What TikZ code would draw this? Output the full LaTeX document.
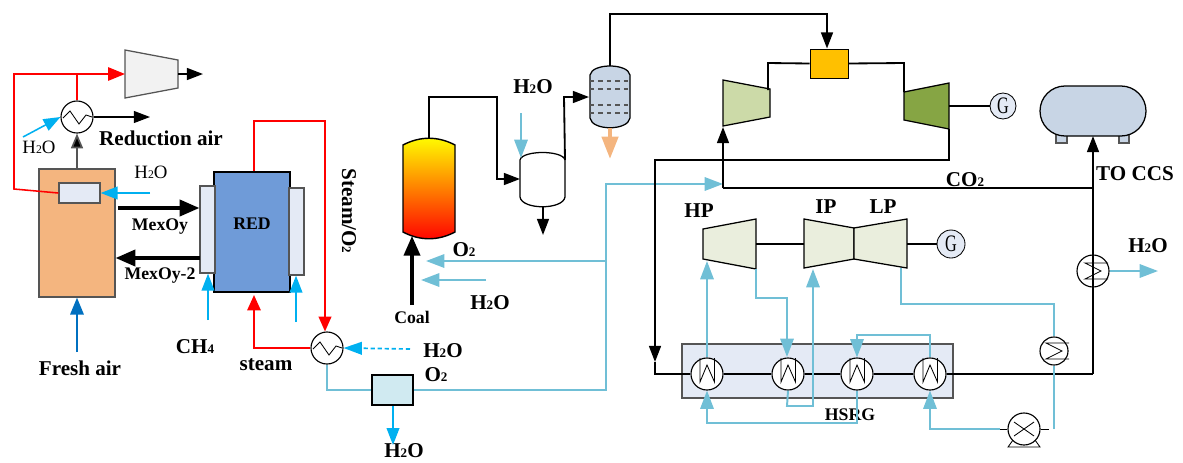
\documentclass[tikz,border=0pt]{standalone}
\usepackage{fontspec}
\setmainfont{Liberation Serif}
\usetikzlibrary{arrows.meta,fit}
\definecolor{airblue}{HTML}{00B0F0}
\definecolor{waterblue}{HTML}{70BFD6}
\definecolor{freshblue}{HTML}{0070C0}
\definecolor{orangebox}{HTML}{F4B57F}
\definecolor{redbox}{HTML}{6F9BD8}
\definecolor{palebox}{HTML}{E4EAF5}
\definecolor{steelbox}{HTML}{C8D5E5}
\definecolor{darkgray}{HTML}{555555}
\definecolor{combbox}{HTML}{FFC000}
\definecolor{compgreen}{HTML}{CCDAA8}
\definecolor{turbgreen}{HTML}{86A544}
\definecolor{steamgreen}{HTML}{EAEEDD}
\definecolor{fangray}{HTML}{F2F2F2}
\newcommand{\HxW}[2]{%
  \node[hx] (#1) at #2 {};
  \draw[hxline,shift={#2}] (-7,-16) -- (-7,8) -- (0,-9) -- (7.5,8) -- (7.5,-16);
}
\newcommand{\HxS}[3]{%
  \node[hx,minimum size=#3*0.025cm] (#1) at #2 {};
  \draw[hxline,shift={#2}] (15,-8) -- (-8,-8) -- (8,0) -- (-8,8) -- (15,8);
}
\newcommand{\HxZ}[2]{%
  \node[hx] (#1) at #2 {};
  \draw[hxline,shift={#2}] (-14,1) -- (-7,-6) -- (2,7) -- (9,-2) -- (15,0);
}
\newcommand{\Sub}[1]{\scalebox{0.62}{#1}}
\newcommand{\GenG}{\scalebox{0.72}[1.05]{G}}
\tikzset{
  hx/.style={draw,circle,fill=white,line width=0.8pt,minimum size=0.8cm,inner sep=0pt},
  hxline/.style={line width=0.6pt},
  gen/.style={draw,circle,fill=palebox,line width=0.6pt,minimum size=0.7cm,inner sep=0pt,font=\fontsize{16}{18}\selectfont},
  box/.style={draw=darkgray,line width=0.9pt,inner sep=0pt},
  label/.style={font=\fontsize{15}{18}\selectfont\bfseries,inner sep=0pt},
  small/.style={font=\fontsize{12.6}{15}\selectfont\bfseries,inner sep=0pt},
  plain/.style={font=\fontsize{13.4}{16}\selectfont,inner sep=0pt},
  pipe/.style={line width=1.3pt,-{Triangle[length=11.5pt,width=8.5pt]}},
  pipeline/.style={line width=1.3pt},
  fatpipe/.style={line width=2.4pt,-{Triangle[length=14pt,width=11.5pt]}},
  redpipe/.style={red,line width=1.1pt},
  wpipe/.style={waterblue,line width=1.4pt},
  warrow/.style={wpipe,-{Triangle[length=13pt,width=9.5pt]}},
  carrow/.style={airblue,line width=1.1pt,-{Triangle[length=12pt,width=9pt]}},
  hull/.style={draw=black,line width=0.9pt}
}
\begin{document}
\begin{tikzpicture}[x=0.025cm,y=-0.025cm]
\useasboundingbox (0,0) rectangle (1183,462);

% air reactor side
\node[box,fill=orangebox,fit={(39,169)(115,297)}] (AR) {};
\node[box,fill=palebox,fit={(59,183)(100,203)}] (ARcoil) {};
\node[box,fill=redbox,draw=black,fit={(214,172)(290,292)}] (RED) {};
\node[box,fill=palebox,fit={(200,186)(215,273)}] (MemL) {};
\node[box,fill=palebox,fit={(289,188)(304,275)}] (MemR) {};
\node[small] (REDname) at (252,224) {RED};

\draw[box,fill=fangray] (125,50) -- (125,98) -- (178,88) -- (178,60) -- cycle;
\coordinate (CompIn) at (125,74);
\coordinate (CompOut) at (178,74);
\coordinate (CompEnd) at (203,74);
\draw[pipe] (CompOut) -- (CompEnd);

\HxZ{HxAir}{(77,117)}
\coordinate (RedTee) at (77,74);
\coordinate (AirEnd) at (150,117);
\coordinate (WaterA) at (23,137);
\coordinate (WaterB) at (150,193);
\draw[redpipe] (ARcoil.west) -- (14,189) -- (14,74) -- (RedTee);
\draw[redpipe,-{Triangle[length=12pt,width=9.5pt]}] (RedTee) -- (CompIn);
\draw[redpipe] (HxAir) -- (RedTee);
\draw[pipe,line width=0.9pt] (HxAir.east) -- (AirEnd);
\draw[darkgray,line width=1.2pt,-{Triangle[length=10.5pt,width=8.5pt,fill=black]}] (AR.north -| HxAir) -- (HxAir.south);
\draw[carrow] (WaterA) -- (HxAir.west);
\draw[carrow] (WaterB) -- (ARcoil.east);
\node[plain] (H2Oa) at (39,147) {H\Sub{2}O};
\node[plain] (H2Ob) at (151,172) {H\Sub{2}O};
\node[label] (RedAir) at (161,138) {Reduction air};

\coordinate (MexA) at (118,208);
\coordinate (MexB) at (200,258);
\draw[fatpipe] (MexA) -- (MemL.west |- MexA);
\draw[fatpipe] (MexB) -- (AR.east |- MexB);
\node[small] (MexOy) at (160,227) {MexOy};
\node[small] (MexOyb) at (160,276) {MexOy-2};

\coordinate (AirIn) at (77,352);
\draw[freshblue,line width=1.4pt,-{Triangle[length=12pt,width=9.5pt]}] (AirIn) -- (AR.south -| AirIn);
\node[label] (FreshAir) at (80,368) {Fresh air};
\coordinate (FuelA) at (208,320);
\coordinate (FuelB) at (296,322);
\draw[carrow] (FuelA) -- (MemL.south -| FuelA);
\draw[carrow] (FuelB) -- (MemR.south -| FuelB);
\node[label] (CHfour) at (195,347) {CH\Sub{4}};

% steam loop
\HxZ{HxSteam}{(327,348)}
\draw[redpipe,line width=1.2pt,-{Triangle[length=10.5pt,width=9pt]}] (RED.north -| 254,0) -- (254,121) -- (325,121) -- (HxSteam.north -| 325,0);
\draw[redpipe,line width=1.5pt,-{Triangle[length=11pt,width=9.5pt]}] (HxSteam.west) -- (254,348) -- (254,295);
\node[label,rotate=-90] (SteamOtwo) at (349,211) {Steam/O\Sub{2}};
\node[label] (Steam) at (266,365) {steam};
\coordinate (WaterC) at (410,349);
\draw[airblue,line width=1.2pt,dash pattern=on 3pt off 2pt,-{Triangle[length=13pt,width=9pt,sep=0pt]}] (WaterC) -- (HxSteam.east);
\node[label] (H2Oc) at (443,351) {H\Sub{2}O};

% separator and oxygen line
\node[box,draw=black,line width=1.3pt,fill=waterblue!33,fit={(372,375)(413,405)}] (Sep) {};
\coordinate (SepOut) at (393,445);
\draw[wpipe] (HxSteam.south) -- (327,390) -- (Sep.west);
\draw[carrow] (Sep.south -| SepOut) -- (SepOut);
\node[label] (H2Od) at (404,451) {H\Sub{2}O};
\node[label] (Otwoa) at (436,375) {O\Sub{2}};
\coordinate (OxTee) at (606,261);
\coordinate (OxEnd) at (426,261);
\coordinate (OxIn) at (723,184);
\coordinate (WaterE) at (486,280);
\coordinate (WaterF) at (421,280);
\draw[wpipe] (Sep.east) -- (606,390) -- (OxTee);
\draw[warrow] (OxTee) -- (606,184) -- (OxIn);
\draw[warrow] (OxTee) -- (OxEnd);
\draw[warrow] (WaterE) -- (WaterF);
\node[label] (Otwob) at (464,250) {O\Sub{2}};
\node[label] (H2Oe) at (490,303) {H\Sub{2}O};

% gasifier
\shade[top color=yellow,bottom color=red,hull,line width=1pt] (403,145) .. controls (420,136) and (438,136) .. (455,145) -- (455,232) .. controls (438,241) and (420,241) .. (403,232) -- cycle;
\coordinate (GasTop) at (429,138);
\coordinate (GasBot) at (412,236);
\coordinate (CoalIn) at (412,305);
\draw[fatpipe] (CoalIn) -- (GasBot);
\node[small] (Coal) at (412,317) {Coal};

% shift vessel
\draw[hull,fill=white] (520,160) .. controls (522,150) and (563,150) .. (565,160) -- (565,197) .. controls (563,210) and (522,210) .. (520,197) -- cycle;
\coordinate (ShiftIn) at (520,179);
\coordinate (ShiftOut) at (565,160);
\coordinate (ShiftTop) at (521,158);
\coordinate (ShiftBot) at (543,207);
\coordinate (ShiftEnd) at (543,235);
\coordinate (WaterG) at (521,113);
\draw[pipe] (GasTop) -- (429,97) -- (497,97) -- (497,179) -- (ShiftIn);
\draw[pipe] (ShiftBot) -- (ShiftEnd);
\draw[warrow] (WaterG) -- (ShiftTop);
\node[label] (H2Og) at (533,87) {H\Sub{2}O};

% column
\draw[hull,fill=steelbox] (590,75) .. controls (592,63) and (628,63) .. (630,75) -- (630,118) .. controls (628,131) and (592,131) .. (590,118) -- cycle;
\foreach \ytray in {81,89,105,113}
  \draw[darkgray,line width=0.8pt,dashed] (590,\ytray) -- (630,\ytray);
\coordinate (ColIn) at (589,97);
\coordinate (ColTop) at (610,66);
\coordinate (ColBot) at (610,128);
\coordinate (ColEnd) at (610,159);
\draw[pipe] (ShiftOut) -- (564,97) -- (ColIn);
\draw[orangebox,line width=3pt,-{Triangle[length=16pt,width=11.5pt]}] (ColBot) -- (ColEnd);

% gas turbine
\node[box,draw=black,line width=0.7pt,fill=combbox,fit={(810,49)(848,78)}] (Comb) {};
\draw[pipe] (ColTop) -- (610,14) -- (827,14) -- (Comb.north -| 827,0);
\draw[hull,fill=compgreen] (723,80) -- (723,126) -- (770,117) -- (770,89) -- cycle;
\draw[hull,fill=turbgreen] (904,92) -- (904,120) -- (949,129) -- (949,83) -- cycle;
\coordinate (CompOutB) at (768,90);
\coordinate (TurbIn) at (904,92);
\coordinate (TurbOut) at (949,129);
\coordinate (TurbShaft) at (949,106);
\coordinate (CompInB) at (723,127);
\coordinate (CoTee) at (723,188);
\coordinate (CcsTee) at (1093,188);
\coordinate (TankBot) at (1093,136);
\node[gen,minimum size=0.65cm] (GenA) at (1003,106) {\GenG};
\draw[pipeline] (CompOutB) -- (768,63) -- (Comb.west);
\draw[pipeline] (Comb.east) -- (904,63) -- (TurbIn);
\draw[pipeline] (TurbShaft) -- (GenA);
\draw[pipe] (CoTee) -- (CompInB);
\draw[pipeline] (CoTee) -- (CcsTee);
\draw[pipe] (CcsTee) -- (TankBot);
\node[label] (COtwo) at (965,180) {CO\Sub{2}};
\node[label] (ToCcs) at (1135,174) {TO CCS};

% storage tank
\node[box,draw=darkgray,fill=steelbox,fit={(1056,134)(1067,143)}] (LegA) {};
\node[box,draw=darkgray,fill=steelbox,fit={(1119,134)(1129,143)}] (LegB) {};
\draw[hull,fill=steelbox,rounded corners=25*0.025cm] (1040,86) rectangle (1146,136);

% HRSG
\node[box,fill=palebox,fit={(682,344)(953,398)}] (HSRG) {};
\node[small] (HSRGname) at (850,415) {HSRG};
\HxW{HxOne}{(707,374)}
\HxW{HxTwo}{(788,374)}
\HxW{HxThree}{(857,374)}
\HxW{HxFour}{(930,374)}
\HxS{HxCond}{(1054,351)}{28}
\coordinate (FlueTee) at (655,374);
\coordinate (FlueArrow) at (655,362);
\coordinate (FlueEnd) at (1093,374);
\coordinate (CoolOut) at (1158,271);
\draw[pipe] (TurbOut) -- (949,160) -- (655,160) -- (FlueArrow);
\draw[pipeline] (FlueArrow) -- (FlueTee) -- (HxOne);
\draw[pipeline] (HxOne) -- (HxTwo);
\draw[pipeline] (HxTwo) -- (HxThree);
\draw[pipeline] (HxThree) -- (HxFour);
\draw[pipeline] (HxFour) -- (FlueEnd);
\HxS{HxCool}{(1093,271)}{32}
\draw[pipeline] (FlueEnd) -- (CcsTee);
\draw[warrow] (HxCool.east) -- (CoolOut);
\node[label] (H2Oh) at (1148,246) {H\Sub{2}O};

% steam turbine
\draw[hull,fill=steamgreen] (703,229) -- (703,259) -- (756,269) -- (756,219) -- cycle;
\draw[hull,fill=steamgreen] (804,219) -- (804,268) -- (854,259) -- (854,228) -- cycle;
\draw[hull,fill=steamgreen] (854,228) -- (854,259) -- (907,268) -- (907,219) -- cycle;
\node[gen] (GenB) at (951,244) {\GenG};
\coordinate (HpIn) at (707,261);
\coordinate (HpOut) at (756,269);
\coordinate (HpShaft) at (756,244);
\coordinate (IpShaft) at (804,244);
\coordinate (IpIn) at (813,269);
\coordinate (LpShaft) at (907,244);
\coordinate (LpOut) at (901,268);
\draw[pipeline] (HpShaft) -- (IpShaft);
\draw[pipeline] (LpShaft) -- (GenB);
\node[label] (HP) at (699,211) {HP};
\node[label] (IP) at (826,207) {IP};
\node[label] (LP) at (883,207) {LP};

% water side
\node[hx] (Pump) at (1024,429) {};
\draw[hxline] ([shift={(-10,-7)}]Pump.center) -- ([shift={(10,7)}]Pump.center);
\draw[hxline] ([shift={(-10,7)}]Pump.center) -- ([shift={(10,-7)}]Pump.center);
\draw[hxline] ([shift={(-11,11)}]Pump.center) -- ([shift={(-16,18)}]Pump.center) -- ([shift={(16,18)}]Pump.center) -- ([shift={(11,11)}]Pump.center);
\coordinate (PumpL) at (1000,429);
\coordinate (PumpR) at (1049,429);
\coordinate (CondEnd) at (1054,429);
\draw[hxline] (PumpL) -- (Pump.west);
\draw[hxline] (Pump.east) -- (PumpR);
\draw[wpipe] (LpOut) -- (901,304) -- (1054,304) -- (HxCond.north);
\draw[wpipe] (HxCond.south) -- (CondEnd);
\draw[warrow] (PumpL) -- (930,429) -- (HxFour.south);
\draw[warrow] (HxFour.north) -- (930,335) -- (857,335) -- (HxThree.north);
\draw[warrow] (HxThree.south) -- (857,423) -- (707,423) -- (HxOne.south);
\draw[warrow] (HxOne.north) -- (HpIn);
\draw[warrow] (HpOut) -- (756,298) -- (787,298) -- (787,357);
\draw[warrow] (HxTwo.south) -- (787,406) -- (813,406) -- (IpIn);
\end{tikzpicture}
\end{document}
